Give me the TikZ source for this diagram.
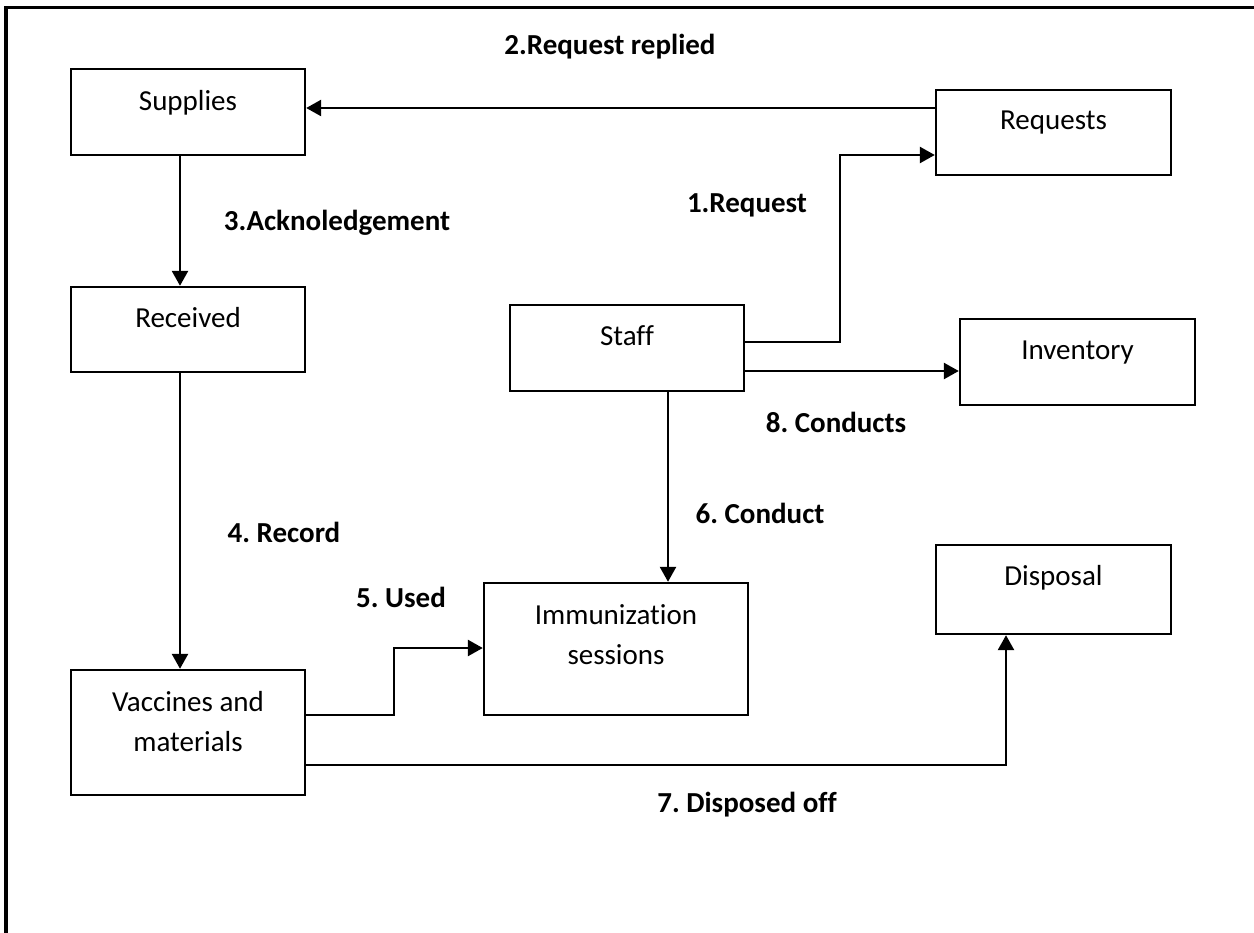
\documentclass[tikz,border=0pt]{standalone}
\usepackage{fontspec}
\setmainfont{Carlito}[Ligatures=NoCommon]
\frenchspacing
\usetikzlibrary{arrows.meta}
\begin{document}
\begin{tikzpicture}[x=1pt,y=-1pt,
  box/.style={draw=black,line width=2.4pt,rectangle,inner sep=0pt},
  boxtext/.style={anchor=north,inner sep=0pt,align=center,
    font=\fontsize{29}{40}\selectfont},
  flowlabel/.style={inner sep=0pt,font=\fontsize{29}{40}\selectfont\bfseries},
  arr/.style={draw=black,line width=2.6pt,-{Triangle[length=15pt,width=16pt]}},
  frameline/.style={draw=black,line width=3.6pt}]
\useasboundingbox (0,0) rectangle (1254,933);

% page frame (left and top edges)
\coordinate (fbl) at (6,933);
\coordinate (ftl) at (6,7.5);
\coordinate (ftr) at (1254,7.5);
\draw[frameline] (fbl) -- (ftl) -- (ftr);

% boxes
\node[box,minimum width=234pt,minimum height=86pt]  (supplies)  at (188,112)      {};
\node[box,minimum width=235pt,minimum height=85pt]  (requests)  at (1053.5,132.5) {};
\node[box,minimum width=234pt,minimum height=85pt]  (received)  at (188,329.5)    {};
\node[box,minimum width=234pt,minimum height=86pt]  (staff)     at (627,348)      {};
\node[box,minimum width=235pt,minimum height=86pt]  (inventory) at (1077.5,362)   {};
\node[box,minimum width=234pt,minimum height=125pt] (vaccines)  at (188,732.5)    {};
\node[box,minimum width=264pt,minimum height=132pt] (immun)     at (616,649)      {};
\node[box,minimum width=235pt,minimum height=89pt]  (disposal)  at (1053.5,589.5) {};

% box captions
\node[boxtext] (supplies-t)  at ([yshift=-14.5pt]supplies.north)  {\strut Supplies};
\node[boxtext] (requests-t)  at ([yshift=-13pt]requests.north)    {\strut Requests};
\node[boxtext] (received-t)  at ([yshift=-14pt]received.north)    {\strut Received};
\node[boxtext] (staff-t)     at ([yshift=-14pt]staff.north)       {\strut Staff};
\node[boxtext] (inventory-t) at ([yshift=-14pt]inventory.north)   {\strut Inventory};
\node[boxtext] (vaccines-t)  at ([yshift=-14pt]vaccines.north)    {\strut Vaccines and\\\strut materials};
\node[boxtext] (immun-t)     at ([yshift=-14pt]immun.north)       {\strut Immunization\\\strut sessions};
\node[boxtext] (disposal-t)  at ([yshift=-13pt]disposal.north)    {\strut Disposal};

% connectors
\draw[arr] ([yshift=24.5pt]requests.west) -- ([yshift=24.5pt]requests.west -| supplies.east);

\coordinate (reqbend) at (840,155);
\draw[arr] ([yshift=6pt]staff.east) -| (reqbend) -- (reqbend -| requests.west);

\draw[arr] ([yshift=-23pt]staff.east) -- ([yshift=-23pt]staff.east -| inventory.west);

\draw[arr] ([xshift=-8pt]supplies.south) -- ([xshift=-8pt]supplies.south |- received.north);
\draw[arr] ([xshift=-8pt]received.south) -- ([xshift=-8pt]received.south |- vaccines.north);

\draw[arr] ([xshift=41pt]staff.south) -- ([xshift=41pt]staff.south |- immun.north);

\coordinate (usedbend) at (394,648);
\draw[arr] ([yshift=17.5pt]vaccines.east) -| (usedbend) -- (usedbend -| immun.west);

\draw[arr] ([yshift=-32.5pt]vaccines.east) -| ([xshift=-47.5pt]disposal.south);

% flow labels
\node[flowlabel] (l2) at (610,47)  {2.Request replied};
\node[flowlabel] (l3) at (337,223) {3.Acknoledgement};
\node[flowlabel] (l1) at (747,205) {1.Request};
\node[flowlabel] (l8) at (836,422) {8. Conducts};
\node[flowlabel] (l6) at (760,513) {6. Conduct};
\node[flowlabel] (l4) at (284,532) {4. Record};
\node[flowlabel] (l5) at (401,597) {5. Used};
\node[flowlabel] (l7) at (747,805) {7. Disposed off};
\end{tikzpicture}
\end{document}
